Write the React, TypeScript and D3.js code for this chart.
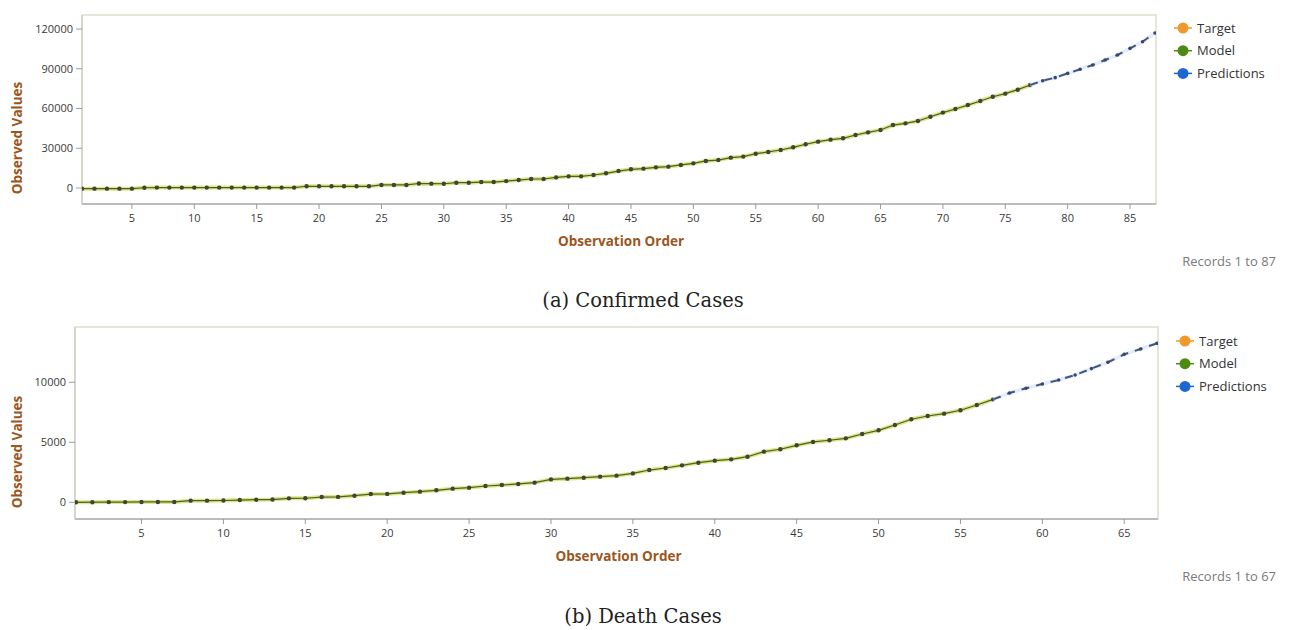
import React from "react";
import * as d3 from "d3";

// Confirmed cases: observed/model values for records 1..77, forecast for 78..87
const confirmedObserved = [
  -500, -500, -500, -500, -500, 200, 300, 300, 300, 300,
  300, 300, 300, 300, 300, 300, 300, 300, 1300, 1300,
  1300, 1300, 1300, 1300, 2300, 2300, 2300, 3400, 3300, 3200,
  4000, 4000, 4500, 4500, 5200, 6000, 6800, 6800, 8000, 8800,
  8800, 9800, 11100, 12800, 14100, 14600, 15600, 16100, 17400, 18600,
  20400, 21100, 22900, 23700, 25900, 27200, 28700, 30700, 33000, 35000,
  36500, 37500, 40000, 42000, 43800, 47500, 48800, 50600, 53800, 56900,
  59600, 62600, 65700, 68900, 71200, 74200, 77700,
];
const confirmedPredictions = [81000, 83300, 86500, 89600, 92800, 96600, 100400, 105400, 110400, 117000];
const confirmedYTicks = [0, 30000, 60000, 90000, 120000];
const confirmedXTicks = [5, 10, 15, 20, 25, 30, 35, 40, 45, 50, 55, 60, 65, 70, 75, 80, 85];

// Death cases: observed/model values for records 1..57, forecast for 58..67
const deathObserved = [
  0, 10, 20, 20, 30, 30, 30, 140, 140, 150,
  190, 220, 230, 330, 340, 440, 450, 550, 690, 700,
  800, 890, 1000, 1140, 1220, 1360, 1440, 1530, 1640, 1910,
  1970, 2050, 2140, 2220, 2410, 2690, 2860, 3080, 3300, 3470,
  3580, 3800, 4220, 4420, 4750, 5030, 5170, 5330, 5690, 6000,
  6440, 6920, 7190, 7390, 7670, 8110, 8580,
];
const deathPredictions = [9110, 9500, 9860, 10190, 10610, 11140, 11670, 12330, 12780, 13250];
const deathYTicks = [0, 5000, 10000];
const deathXTicks = [5, 10, 15, 20, 25, 30, 35, 40, 45, 50, 55, 60, 65];

const legendItems = [
  { label: "Target", color: "#f09a2e" },
  { label: "Model", color: "#4e8a12" },
  { label: "Predictions", color: "#1d66d3" },
];

const UI_FONT = "'Open Sans', 'Noto Sans', sans-serif";
const TITLE_COLOR = "#9b561d";

type Pt = { x: number; y: number };

function Panel(props: {
  top: number;
  box: { left: number; right: number; top: number; bottom: number };
  xRange: [number, number];
  yDomain: [number, number];
  observed: number[];
  predictions: number[];
  xTicks: number[];
  yTicks: number[];
  legendX: number;
  legendY: number;
  records: string;
  recordsY: number;
  xTitleY: number;
  yTitleY: number;
  caption: string;
  captionY: number;
}) {
  const { box, observed, predictions } = props;
  const n = observed.length + predictions.length;
  const x = d3.scaleLinear().domain([1, n]).range(props.xRange);
  const y = d3.scaleLinear().domain(props.yDomain).range([box.bottom, box.top]);

  const obsPts: Pt[] = observed.map((v, i) => ({ x: i + 1, y: v }));
  const predPts: Pt[] = [
    obsPts[obsPts.length - 1],
    ...predictions.map((v, i) => ({ x: observed.length + i + 1, y: v })),
  ];
  const line = d3
    .line<Pt>()
    .x((d) => x(d.x))
    .y((d) => y(d.y));

  const clipId = `clip-${props.top}`;

  return (
    <g>
      <defs>
        <clipPath id={clipId}>
          <rect x={box.left} y={box.top} width={box.right - box.left} height={box.bottom - box.top} />
        </clipPath>
      </defs>
      {/* plot frame */}
      <rect
        x={box.left}
        y={box.top}
        width={box.right - box.left}
        height={box.bottom - box.top}
        fill="#fff"
        stroke="#deddc9"
        strokeWidth={1.5}
      />
      <line x1={box.left} x2={box.right} y1={box.bottom} y2={box.bottom} stroke="#b9bdc2" strokeWidth={2} />
      <line x1={box.left} x2={box.left} y1={box.top} y2={box.bottom} stroke="#cfd0c8" strokeWidth={1.5} />

      {/* y axis ticks */}
      {props.yTicks.map((t) => (
        <g key={`y${t}`}>
          <line x1={box.left - 6} x2={box.left} y1={y(t)} y2={y(t)} stroke="#9a9a9a" strokeWidth={1} />
          <text
            x={box.left - 9}
            y={y(t)}
            dy="0.35em"
            textAnchor="end"
            fontFamily={UI_FONT}
            fontSize={11}
            fill="#3a3a3a"
          >
            {t}
          </text>
        </g>
      ))}

      {/* x axis ticks */}
      {props.xTicks.map((t) => (
        <g key={`x${t}`}>
          <line x1={x(t)} x2={x(t)} y1={box.bottom} y2={box.bottom + 5} stroke="#9a9a9a" strokeWidth={1} />
          <text
            x={x(t)}
            y={box.bottom + 18}
            textAnchor="middle"
            fontFamily={UI_FONT}
            fontSize={11}
            fill="#3a3a3a"
          >
            {t}
          </text>
        </g>
      ))}

      <g clipPath={`url(#${clipId})`}>
        {/* target (observed) trace underneath the model */}
        <path d={line(obsPts) ?? ""} fill="none" stroke="#d8df66" strokeWidth={4} strokeOpacity={0.8} />
        {/* model trace */}
        <path d={line(obsPts) ?? ""} fill="none" stroke="#4d5e2a" strokeWidth={1.2} />
        {obsPts.map((p) => (
          <circle key={`o${p.x}`} cx={x(p.x)} cy={y(p.y)} r={2.2} fill="#3e4632" />
        ))}
        {/* forecast trace */}
        <path d={line(predPts) ?? ""} fill="none" stroke="#e2edfa" strokeWidth={3.5} />
        <path d={line(predPts) ?? ""} fill="none" stroke="#44557e" strokeWidth={2} strokeDasharray="8,7" />
        {predPts.slice(1).map((p) => (
          <circle key={`p${p.x}`} cx={x(p.x)} cy={y(p.y)} r={1.8} fill="#39486a" />
        ))}
      </g>

      {/* axis titles */}
      <text
        x={(box.left + box.right) / 2 + 2}
        y={props.xTitleY}
        textAnchor="middle"
        fontFamily={UI_FONT}
        fontWeight="bold"
        fontSize={13.5}
        fill={TITLE_COLOR}
      >
        Observation Order
      </text>
      <text
        transform={`translate(22, ${props.yTitleY}) rotate(-90)`}
        textAnchor="middle"
        fontFamily={UI_FONT}
        fontWeight="bold"
        fontSize={13.5}
        fill={TITLE_COLOR}
      >
        Observed Values
      </text>

      {/* legend */}
      {legendItems.map((item, i) => {
        const ly = props.legendY + i * 22.7;
        return (
          <g key={item.label}>
            <line x1={props.legendX - 9} x2={props.legendX + 9} y1={ly} y2={ly} stroke={item.color} strokeWidth={1.5} />
            <circle cx={props.legendX} cy={ly} r={5.5} fill={item.color} />
            <text x={props.legendX + 14} y={ly} dy="0.35em" fontFamily={UI_FONT} fontSize={13} fill="#333">
              {item.label}
            </text>
          </g>
        );
      })}

      <text
        x={1276}
        y={props.recordsY}
        textAnchor="end"
        fontFamily={UI_FONT}
        fontSize={13}
        fill="#7a7a7a"
      >
        {props.records}
      </text>

      <text
        x={643}
        y={props.captionY}
        textAnchor="middle"
        fontFamily="'DejaVu Serif', serif"
        fontSize={19.5}
        fill="#222"
      >
        {props.caption}
      </text>
    </g>
  );
}

export default function App() {
  return (
    <svg
      width={1290}
      height={630}
      viewBox="0 0 1290 630"
      style={{ position: "absolute", left: 0, top: 0, background: "#fff" }}
    >
      <rect width={1290} height={630} fill="#fff" />
      <Panel
        top={0}
        box={{ left: 82, right: 1156, top: 15, bottom: 204 }}
        xRange={[82, 1155]}
        yDomain={[-12075, 130566]}
        observed={confirmedObserved}
        predictions={confirmedPredictions}
        xTicks={confirmedXTicks}
        yTicks={confirmedYTicks}
        legendX={1183}
        legendY={28}
        records="Records 1 to 87"
        recordsY={266}
        xTitleY={246}
        yTitleY={138}
        caption="(a) Confirmed Cases"
        captionY={307}
      />
      <Panel
        top={320}
        box={{ left: 75, right: 1158, top: 327, bottom: 519 }}
        xRange={[76, 1157]}
        yDomain={[-1390, 14608]}
        observed={deathObserved}
        predictions={deathPredictions}
        xTicks={deathXTicks}
        yTicks={deathYTicks}
        legendX={1185}
        legendY={341}
        records="Records 1 to 67"
        recordsY={581}
        xTitleY={561}
        yTitleY={452}
        caption="(b) Death Cases"
        captionY={623}
      />
    </svg>
  );
}
